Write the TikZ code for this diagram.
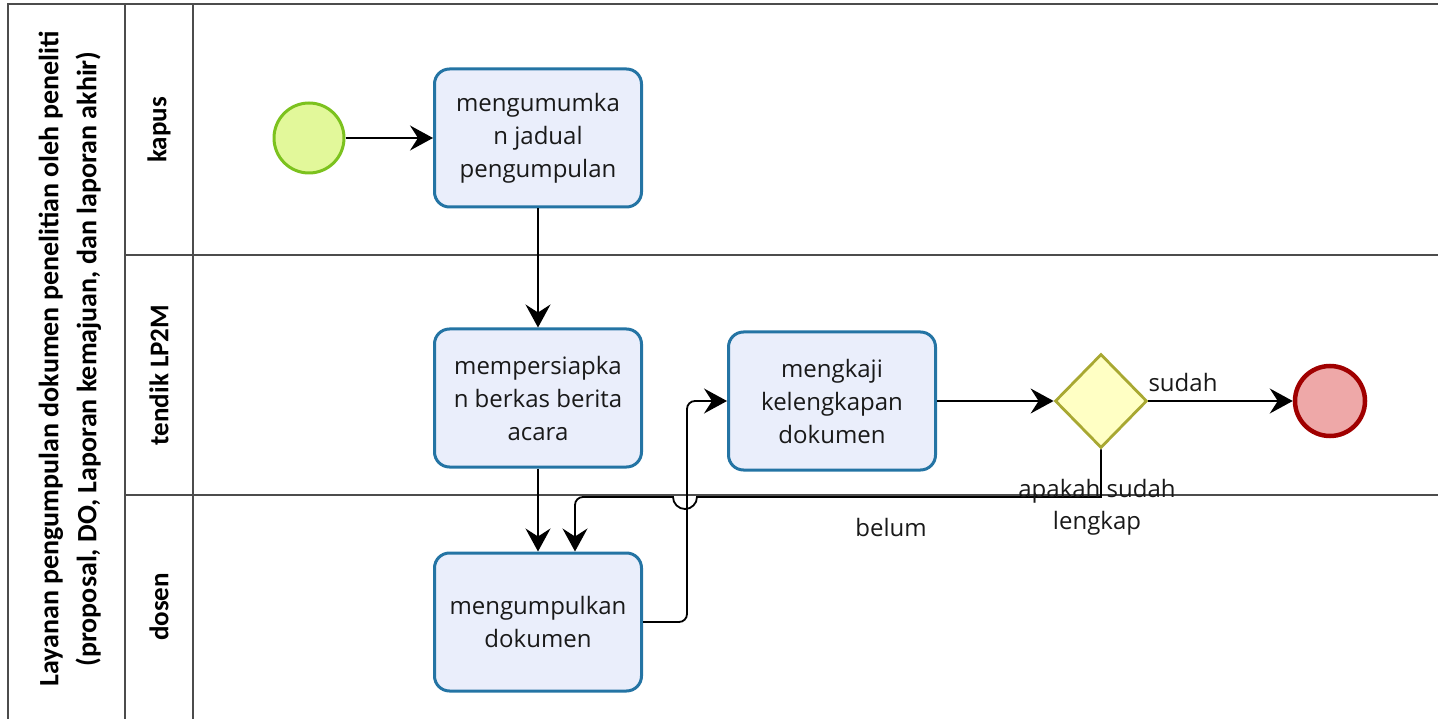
\documentclass[tikz,border=0pt]{standalone}
\usepackage{fontspec}
\setmainfont{Open Sans}
\newfontfamily\lanefont{Carlito}
\usetikzlibrary{arrows.meta, positioning, shapes.geometric}

\definecolor{taskfill}{HTML}{EAEEFB}
\definecolor{taskline}{HTML}{2474A4}
\definecolor{startfill}{HTML}{E2F89A}
\definecolor{startline}{HTML}{7CC21E}
\definecolor{endfill}{HTML}{EEA8A8}
\definecolor{endline}{HTML}{A00000}
\definecolor{gwfill}{HTML}{FFFFC4}
\definecolor{gwline}{HTML}{A8A832}

\begin{document}
\begin{tikzpicture}[
  x=1pt, y=-1pt,
  lane/.style={draw=black!70, line width=1.5pt},
  task/.style={draw=taskline, fill=taskfill, line width=3pt, rounded corners=15pt,
    minimum width=207pt, minimum height=138pt, align=center,
    font=\fontsize{24}{33}\selectfont, text=black!90},
  startev/.style={circle, draw=startline, fill=startfill, line width=3pt, minimum size=70pt},
  endev/.style={circle, draw=endline, fill=endfill, line width=4.5pt, minimum size=70pt},
  gateway/.style={diamond, draw=gwline, fill=gwfill, line width=2.8pt,
    minimum width=92pt, minimum height=94pt, inner sep=0pt},
  flow/.style={-{Stealth[length=23pt, width=25pt, inset=8pt]}, line width=1.8pt},
  lbl/.style={font=\fontsize{24}{33}\selectfont, text=black!90, align=center},
  lanename/.style={rotate=90, font=\lanefont\bfseries\fontsize{27}{38}\selectfont}
]
\useasboundingbox (0,0) rectangle (1438,719);
% pool and lanes
\draw[lane] (1438,4) -- (8,4) -- (8,719);
\draw[lane] (125,4) -- (125,719);
\draw[lane] (193,4) -- (193,719);
\draw[lane] (125,255) -- (1438,255);
\draw[lane] (125,495) -- (1438,495);
\node[lanename, align=center, font=\lanefont\bfseries\fontsize{28}{38}\selectfont] (pool) at (70,359)
  {Layanan pengumpulan dokumen penelitian oleh peneliti\\(proposal, DO, Laporan kemajuan, dan laporan akhir)};
\node[lanename] (kapus) at (159,130) {kapus};
\node[lanename] (tendik) at (159,375) {tendik LP2M};
\node[lanename] (dosen) at (159,607) {dosen};

% events, tasks, gateway
\node[startev] (start) at (309,138) {};
\node[task] (umum) at (538,138) {mengumumka\\n jadual\\pengumpulan};
\node[task] (siap) at (538,398) {mempersiapka\\n berkas berita\\acara};
\node[task] (kumpul) at (538,622) {mengumpulkan\\dokumen};
\node[task] (kaji) at (832,401) {mengkaji\\kelengkapan\\dokumen};
\node[gateway] (cek) at (1101,401) {};
\node[endev] (selesai) at (1330,401) {};
\coordinate (balik) at (575,497);

% flows
\draw[flow] (start) -- (umum);
\draw[flow] (umum) -- (siap);
\draw[flow] (siap) -- (kumpul);
\draw[flow, rounded corners=8pt] (kumpul.east) -- ++(44,0) |- (kaji.west);
\draw[flow] (kaji) -- (cek);
\draw[flow] (cek) -- (selesai);
\draw[flow] (cek.south) -- (1101,497) -- (697,497)
  arc[start angle=0, end angle=-180, radius=12pt]
  [rounded corners=8pt] -- (balik) -- (kumpul.north -| balik);

% labels
\node[lbl] (lsudah) at (1183,382) {sudah};
\node[lbl] (lbelum) at (891,527) {belum};
\node[lbl, font=\fontsize{24}{32}\selectfont] (ltanya) at (1097,507) {apakah sudah\\lengkap};
\end{tikzpicture}
\end{document}
